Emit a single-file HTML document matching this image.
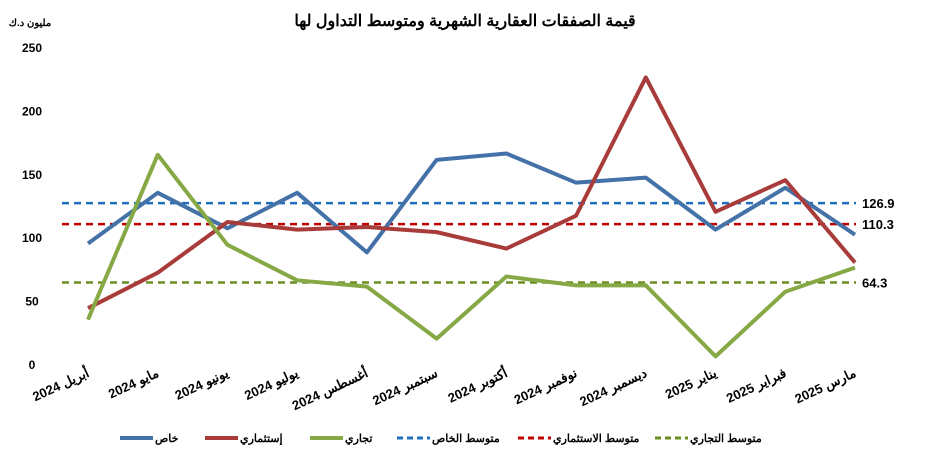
<!DOCTYPE html>
<html><head><meta charset="utf-8"><style>
body{margin:0;background:#fff;}
svg text{font-family:"Liberation Sans","Noto Sans CJK SC",sans-serif;font-weight:bold;}
</style></head><body>
<svg width="932" height="468">
<text x="465" y="26" font-size="16" text-anchor="middle">قيمة الصفقات العقارية الشهرية ومتوسط التداول لها</text>
<text x="30" y="26" font-size="10" text-anchor="middle">مليون د.ك</text>
<g id="yaxis"></g>
<g id="avgs"></g>
<g id="series"></g>
<g id="xaxis"></g>
<g id="legend"></g>
</svg>
<script>
const categories=["أبريل 2024","مايو 2024","يونيو 2024","يوليو 2024","أغسطس 2024","سبتمبر 2024","أكتوبر 2024","نوفمبر 2024","ديسمبر 2024","يناير 2025","فبراير 2025","مارس 2025"];
const privateVals=[95,135,107,135,88,161,166,143,147,106,139,102];
const investVals=[44,72,112,106,108,104,91,117,226,120,145,80];
const commercialVals=[35,165,94,66,61,20,69,62,62,6,57,76];
const averages=[126.9,110.3,64.3];
const yTicks=[0,50,100,150,200,250];
const NS="http://www.w3.org/2000/svg";
const x0=88,x1=855,y0=364,yTop=47,yMax=250;
const X=i=>x0+i*(x1-x0)/(categories.length-1);
const Y=v=>y0-v*(y0-yTop)/yMax;
function mk(tag,attrs,parent,text){const e=document.createElementNS(NS,tag);for(const k in attrs)e.setAttribute(k,attrs[k]);if(text!==undefined)e.textContent=text;parent.appendChild(e);return e;}
const ya=document.getElementById('yaxis');
yTicks.forEach(t=>{const e=mk('text',{x:32,y:Y(t)+5,'font-size':12,'text-anchor':'middle'},ya,String(t));

});
const cols=["#1f6fbf","#c00000","#6b8e23"];
const av=document.getElementById('avgs');
averages.forEach((a,i)=>{const l=mk('line',{x1:62,x2:856,y1:Y(a),y2:Y(a),stroke:cols[i],'stroke-width':2.5,'stroke-dasharray':'7,5'},av);


const t=mk('text',{x:862,y:Y(a)+5,'font-size':13},av,a.toFixed(1));

});
const sg=document.getElementById('series');
[[privateVals,"#4472a8"],[investVals,"#a83c3a"],[commercialVals,"#86a845"]].forEach(([vals,c])=>{
const p=mk('polyline',{points:vals.map((v,i)=>X(i)+','+Y(v)).join(' '),fill:'none',stroke:c,'stroke-width':4,'stroke-linejoin':'round'},sg);

});
const xa=document.getElementById('xaxis');
categories.forEach((c,i)=>{const t=mk('text',{x:0,y:0,'font-size':13,'text-anchor':'end',transform:`translate(${X(i)+2},${376}) rotate(-25)`},xa,c);

});
const lg=document.getElementById('legend');
const items=[["خاص","#4472a8",false,120],["إستثماري","#a83c3a",false,205],["تجاري","#86a845",false,310],["متوسط الخاص","#1f6fbf",true,397],["متوسط الاستثماري","#c00000",true,518],["متوسط التجاري","#6b8e23",true,655]];
items.forEach(([n,c,d,x])=>{const g=mk('g',{},lg);


mk('line',{x1:x,x2:x+33,y1:438,y2:438,stroke:c,'stroke-width':d?3:4,'stroke-dasharray':d?'6,4':'none'},g);
mk('text',{x:x+35,y:442,'font-size':11,'text-anchor':'start',direction:'ltr'},g,n);});
</script>
</body></html>
